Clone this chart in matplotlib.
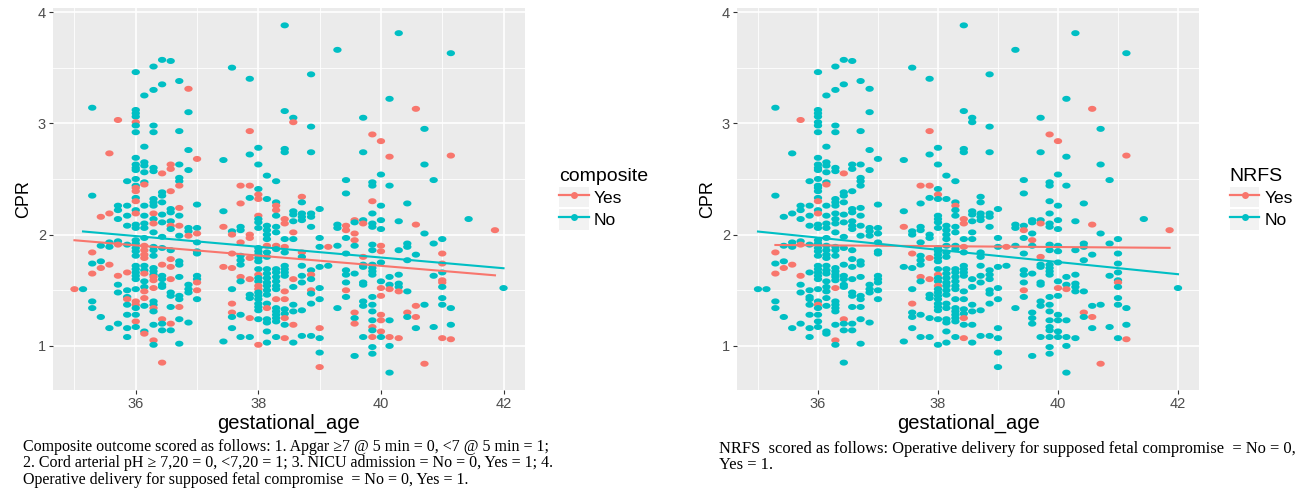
import numpy as np
import matplotlib as mpl
from matplotlib import pyplot as plt
from matplotlib.lines import Line2D
from matplotlib.patches import Patch

mpl.rcParams['font.family'] = ['Liberation Sans', 'DejaVu Sans']

RED = '#F8766D'
CYAN = '#00BFC4'

# gestational age (weeks + days/7) of each column of dots
col_age = [35.00, 35.14, 35.29, 35.43, 35.57, 35.71, 35.86,
           36.00, 36.14, 36.29, 36.43, 36.57, 36.71, 36.86,
           37.00, 37.43, 37.57, 37.71, 37.86,
           38.00, 38.14, 38.29, 38.43, 38.57, 38.71, 38.86,
           39.00, 39.14, 39.29, 39.43, 39.57, 39.71, 39.86,
           40.00, 40.14, 40.29, 40.43, 40.57, 40.71, 40.86,
           41.00, 41.14, 41.43, 41.86, 42.00]

# CPR values in each column
col_cpr = [
    [1.51],
    [1.51],
    [3.14, 2.35, 1.84, 1.74, 1.65, 1.40, 1.34],
    [2.16, 1.90, 1.76, 1.70, 1.26],
    [2.73, 2.19, 1.93, 1.89, 1.73, 1.16],
    [3.03, 2.26, 2.22, 2.14, 1.94, 1.91, 1.63, 1.55, 1.48, 1.20],
    [2.48, 2.26, 2.17, 2.08, 1.91, 1.66, 1.50, 1.44, 1.42, 1.37, 1.28, 1.16, 1.08],
    [3.46, 3.12, 3.09, 3.06, 3.01, 2.98, 2.92, 2.69, 2.63, 2.60, 2.58, 2.50, 2.44,
     2.42, 2.39, 2.33, 2.30, 2.22, 2.19, 2.09, 2.06, 1.95, 1.92, 1.88, 1.85, 1.81,
     1.72, 1.69, 1.66, 1.63, 1.60, 1.51, 1.40, 1.37, 1.34, 1.28, 1.22, 1.17],
    [3.25, 2.79, 2.65, 2.62, 2.56, 2.47, 2.45, 2.26, 2.17, 2.10, 2.06, 1.97, 1.90,
     1.86, 1.82, 1.79, 1.72, 1.68, 1.65, 1.58, 1.53, 1.49, 1.43, 1.36, 1.13, 1.11],
    [3.51, 3.30, 2.98, 2.92, 2.60, 2.57, 2.32, 2.29, 2.26, 2.19, 2.14, 2.10, 2.02,
     1.89, 1.86, 1.81, 1.70, 1.67, 1.64, 1.62, 1.59, 1.52, 1.40, 1.37, 1.34, 1.31,
     1.19, 1.05, 1.01],
    [3.57, 3.35, 2.55, 2.38, 2.35, 2.29, 2.18, 2.11, 1.98, 1.88, 1.73, 1.63, 1.60,
     1.55, 1.53, 1.24, 1.20, 1.14, 0.85],
    [3.56, 2.63, 2.59, 2.39, 2.23, 2.20, 2.12, 2.08, 2.05, 1.86, 1.78, 1.71, 1.60,
     1.48, 1.45, 1.35, 1.20, 1.14],
    [3.38, 2.93, 2.63, 2.51, 2.48, 2.44, 2.24, 2.17, 2.08, 1.99, 1.76, 1.73, 1.62,
     1.45, 1.42, 1.35, 1.24, 1.02],
    [3.31, 3.10, 2.76, 2.58, 2.06, 2.03, 1.99, 1.55, 1.51, 1.48, 1.21],
    [2.68, 2.27, 2.06, 2.01, 1.93, 1.85, 1.83, 1.63, 1.60, 1.57, 1.50, 1.42],
    [2.67, 2.21, 2.07, 1.71, 1.04],
    [3.50, 2.03, 2.00, 1.83, 1.70, 1.51, 1.38, 1.30, 1.26, 1.16],
    [2.44, 2.28, 2.07, 2.04, 1.93, 1.81, 1.77, 1.73, 1.62, 1.58, 1.28, 1.08],
    [3.40, 2.93, 2.72, 2.44, 2.33, 2.00, 1.97, 1.79, 1.60, 1.46, 1.43, 1.25, 1.08],
    [2.78, 2.63, 2.41, 2.36, 2.32, 2.17, 2.14, 2.11, 2.06, 1.88, 1.85, 1.82, 1.79,
     1.76, 1.69, 1.64, 1.61, 1.58, 1.54, 1.51, 1.48, 1.45, 1.42, 1.38, 1.35, 1.32,
     1.24, 1.01],
    [2.53, 2.32, 2.08, 2.04, 2.00, 1.96, 1.90, 1.84, 1.80, 1.69, 1.65, 1.61, 1.57,
     1.54, 1.50, 1.46, 1.38, 1.34, 1.24, 1.21, 1.13, 1.03],
    [2.48, 2.29, 2.26, 2.22, 2.17, 2.07, 2.02, 1.90, 1.87, 1.69, 1.66, 1.62, 1.58,
     1.54, 1.51, 1.42, 1.34, 1.31, 1.28, 1.25, 1.22, 1.08],
    [3.88, 3.11, 2.77, 2.74, 2.14, 2.10, 1.96, 1.89, 1.84, 1.72, 1.69, 1.66, 1.63,
     1.49, 1.42, 1.33, 1.29, 1.25, 1.19, 1.07],
    [3.05, 3.01, 2.21, 2.18, 2.12, 2.02, 1.96, 1.60, 1.53, 1.37, 1.31, 1.19, 1.03],
    [2.34, 2.29, 2.19, 2.16, 2.13, 1.84, 1.80, 1.72, 1.63, 1.57, 1.32, 1.09],
    [3.44, 2.97, 2.74, 2.19, 2.16, 2.07, 1.68, 1.64, 1.60, 1.50, 1.47, 1.38, 1.09],
    [2.23, 1.97, 1.89, 1.71, 1.52, 1.42, 1.16, 1.07, 0.94, 0.81],
    [1.89, 1.72],
    [3.66, 2.09, 2.06, 1.90, 1.34],
    [2.49, 2.37, 2.08, 2.04, 1.97, 1.83, 1.68, 1.64, 1.57, 1.50, 1.44],
    [2.13, 2.11, 2.01, 1.95, 1.90, 1.65, 1.30, 1.25, 1.20, 0.91],
    [3.05, 2.74, 2.13, 2.10, 1.80, 1.73, 1.71, 1.57, 1.55, 1.40, 1.36, 1.08],
    [2.90, 2.47, 2.44, 2.30, 2.19, 2.10, 2.07, 1.91, 1.86, 1.73, 1.70, 1.67, 1.64,
     1.44, 1.37, 1.31, 1.23, 1.17, 1.14, 1.08, 0.99, 0.93],
    [2.84, 2.54, 2.26, 2.13, 2.05, 1.90, 1.85, 1.75, 1.58, 1.52, 1.45, 1.28, 1.23,
     1.13, 1.08],
    [3.22, 2.70, 2.44, 1.62, 1.55, 1.51, 1.23, 1.08, 1.00, 0.76],
    [3.81, 2.12, 1.86, 1.64, 1.56, 1.53, 1.49, 1.07],
    [2.28, 1.92, 1.89, 1.77, 1.49, 1.30, 1.26],
    [3.13, 2.09, 1.82, 1.36, 1.26, 1.16],
    [2.95, 2.63, 2.01, 1.37, 0.84],
    [2.49, 1.92, 1.63, 1.17],
    [1.96, 1.83, 1.74, 1.66, 1.59, 1.57, 1.53, 1.43, 1.37, 1.07],
    [3.63, 2.71, 1.34, 1.19, 1.06],
    [2.14],
    [2.04],
    [1.52],
]

# dots drawn as "Yes" (red) in the composite panel
composite_yes = {
    35.00: [1.51], 35.29: [1.84, 1.65], 35.43: [2.16, 1.70],
    35.57: [2.73, 2.19, 1.73], 35.71: [3.03, 1.91, 1.63], 35.86: [1.66, 1.42],
    36.00: [3.01, 2.42, 2.39, 2.30, 2.19, 1.40, 1.37, 1.22],
    36.14: [2.45, 1.90, 1.86, 1.82, 1.79, 1.65, 1.49, 1.43, 1.11],
    36.29: [2.19, 2.10, 1.62, 1.59, 1.52, 1.34, 1.05],
    36.43: [2.55, 1.73, 1.24, 0.85],
    36.57: [2.63, 2.59, 2.39, 2.08, 1.78, 1.71, 1.60, 1.20],
    36.71: [2.44, 2.24, 2.08, 1.35], 36.86: [3.31, 1.99],
    37.00: [2.68, 2.01, 1.57, 1.50], 37.43: [2.07, 1.71],
    37.57: [2.00, 1.83, 1.70, 1.38, 1.30], 37.71: [2.44, 2.28, 1.93, 1.62],
    37.86: [2.93, 2.44, 2.00, 1.97, 1.79, 1.60, 1.25],
    38.00: [2.36, 2.32, 2.17, 1.64, 1.54, 1.51, 1.01], 38.14: [1.90, 1.34],
    38.29: [2.26, 2.22, 1.90, 1.42], 38.43: [2.14, 2.10, 1.89, 1.49, 1.42, 1.25, 1.07],
    38.57: [3.01, 2.02, 1.60, 1.19], 38.71: [2.34, 1.84], 38.86: [1.64, 1.50],
    39.00: [1.16, 0.81], 39.14: [1.89], 39.43: [2.08, 2.04, 1.50],
    39.57: [2.13, 2.01, 1.95, 1.30, 1.20], 39.71: [2.10, 1.80],
    39.86: [2.90, 2.30, 1.17, 1.08],
    40.00: [2.84, 1.90, 1.85, 1.52, 1.45, 1.28, 1.23, 1.13],
    40.14: [2.70, 1.51, 1.08], 40.29: [1.49, 1.07], 40.43: [1.30],
    40.57: [3.13, 2.09, 1.36, 1.26], 40.71: [0.84],
    41.00: [1.83, 1.74, 1.59, 1.57, 1.07], 41.14: [2.71, 1.06], 41.86: [2.04],
}

# dots drawn as "Yes" (red) in the NRFS panel
nrfs_yes = {
    35.29: [1.84, 1.65], 35.43: [1.70], 35.57: [1.73], 35.71: [3.03, 1.91, 1.63],
    36.00: [2.30, 2.19, 1.37], 36.14: [2.45], 36.29: [1.52, 1.05], 36.43: [2.55, 1.24],
    37.43: [2.07], 37.57: [1.83, 1.38], 37.71: [2.44, 1.62],
    37.86: [2.93, 2.44, 1.79, 1.60], 38.00: [2.36, 1.64, 1.54], 38.29: [2.26],
    38.43: [2.14, 2.10, 1.89, 1.25, 1.07], 39.14: [1.89], 39.43: [2.04, 1.50],
    39.57: [1.95], 39.71: [2.10, 1.80], 39.86: [2.90], 40.00: [2.84, 1.52],
    40.14: [1.51], 40.43: [1.30], 40.57: [3.13, 2.09, 1.26], 40.71: [0.84],
    41.00: [1.57], 41.14: [2.71, 1.06], 41.86: [2.04],
}

x_ticks = [36, 38, 40, 42]
y_ticks = [1, 2, 3, 4]

note_composite = ("Composite outcome scored as follows: 1. Apgar \u22657 @ 5 min = 0, <7 @ 5 min = 1;\n"
                  "2. Cord arterial pH \u2265 7,20 = 0, <7,20 = 1; 3. NICU admission = No = 0, Yes = 1; 4.\n"
                  "Operative delivery for supposed fetal compromise  = No = 0, Yes = 1.")
note_nrfs = ("NRFS  scored as follows: Operative delivery for supposed fetal compromise  = No = 0,\n"
             "Yes = 1.")

# slightly flattened dot, like in the exported picture
t = np.linspace(0, 2 * np.pi, 40)
DOT = np.column_stack([np.cos(t), 0.72 * np.sin(t)])


def flatten(yes_map):
    age, cpr, flag = [], [], []
    for a, vals in zip(col_age, col_cpr):
        for v in vals:
            age.append(a)
            cpr.append(v)
            flag.append(v in yes_map.get(a, []))
    return np.array(age), np.array(cpr), np.array(flag)


def panel(ax, yes_map, title, leg_x):
    age, cpr, flag = flatten(yes_map)
    ax.set_facecolor('#EBEBEB')
    colors = np.where(flag, RED, CYAN)
    ax.scatter(age, cpr, s=36, c=colors, marker=DOT, linewidths=0, zorder=3)
    # lm line per group, over the group's own range
    for sel, col in [(flag, RED), (~flag, CYAN)]:
        k, b = np.polyfit(age[sel], cpr[sel], 1)
        xs = np.array([age[sel].min(), age[sel].max()])
        ax.plot(xs, k * xs + b, color=col, lw=1.5, zorder=4)

    pad_x = (age.max() - age.min()) * 0.05
    pad_y = (cpr.max() - cpr.min()) * 0.05
    ax.set_xlim(age.min() - pad_x, age.max() + pad_x)
    ax.set_ylim(cpr.min() - pad_y, cpr.max() + pad_y)
    ax.set_xticks(x_ticks)
    ax.set_yticks(y_ticks)
    ax.set_xticks([35, 37, 39, 41], minor=True)
    ax.set_yticks([1.5, 2.5, 3.5], minor=True)
    ax.grid(which='major', color='white', lw=1.2)
    ax.grid(which='minor', color='white', lw=0.6)
    ax.set_axisbelow(True)
    for s in ax.spines.values():
        s.set_visible(False)
    ax.tick_params(which='major', length=3, width=0.8, color='#333333',
                   labelcolor='#4D4D4D', labelsize=10.5, pad=2)
    ax.tick_params(which='minor', length=0)
    ax.set_xlabel('gestational_age', fontsize=14.5, labelpad=2)
    ax.set_ylabel('CPR', fontsize=13, labelpad=4)

    handles = [(Patch(facecolor='#F2F2F2', edgecolor='none'),
                Line2D([], [], color=c, lw=1.6, marker='o', ms=5, mew=0))
               for c in (RED, CYAN)]
    leg = ax.legend(handles, ['Yes', 'No'], title=title, loc='center left',
                    bbox_to_anchor=(leg_x, 0.5), frameon=False, fontsize=12.5,
                    title_fontsize=14, handlelength=1.7, handleheight=1.45,
                    labelspacing=0.08, handletextpad=0.3, borderpad=0,
                    alignment='left')
    return leg


fig = plt.figure(figsize=(13.06, 4.98), dpi=100)
ax1 = fig.add_axes([53 / 1306, 108 / 498, 472 / 1306, 382 / 498])
ax2 = fig.add_axes([737 / 1306, 108 / 498, 462 / 1306, 382 / 498])
panel(ax1, composite_yes, 'composite', 1.054)
panel(ax2, nrfs_yes, 'NRFS', 1.048)

fig.text(23 / 1306, 1 - 439 / 498, note_composite, family='Liberation Serif',
         fontsize=11.5, va='top', ha='left', linespacing=1.03)
fig.text(719 / 1306, 1 - 441 / 498, note_nrfs, family='Liberation Serif',
         fontsize=11.9, va='top', ha='left', linespacing=1.0)

plt.savefig('out.png', dpi=100)
